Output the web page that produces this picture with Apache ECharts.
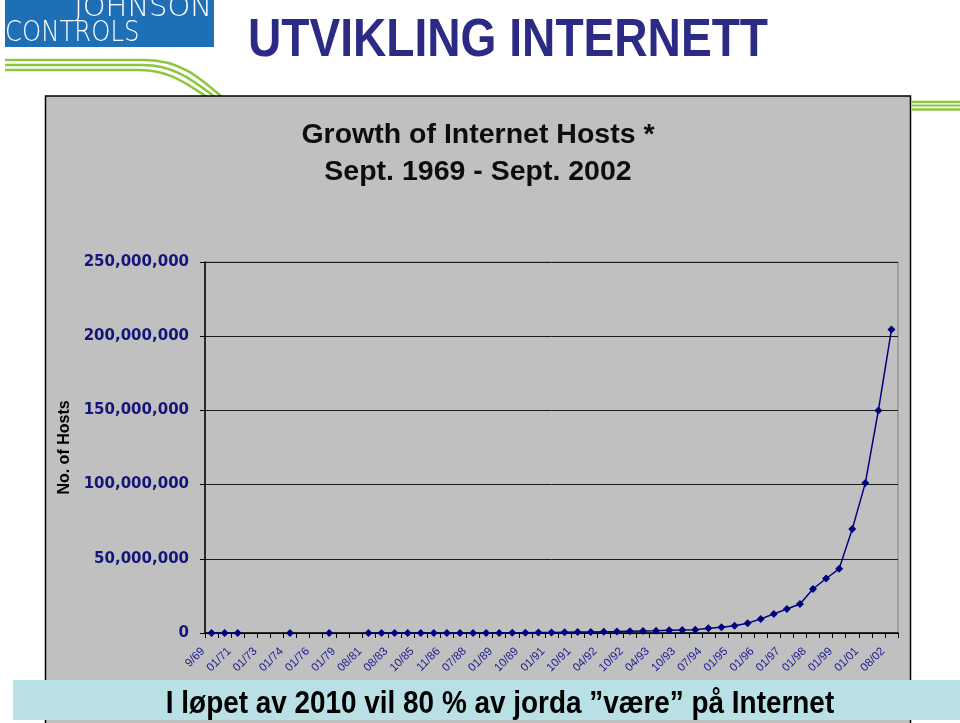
<!DOCTYPE html>
<html>
<head>
<meta charset="utf-8">
<script src="https://cdn.jsdelivr.net/npm/echarts@6/dist/echarts.min.js"></script>
<style>
html,body{margin:0;padding:0;background:#fff;}
#chart{width:960px;height:723px;}
</style>
</head>
<body>
<div id="chart"></div>
<script>
// ---- data ----
var categories = ["9/69","06/70","01/71","01/72","01/73","06/73","01/74","01/75","01/76","03/77",
  "01/79","12/79","08/81","05/82","08/83","10/84","10/85","02/86","11/86","12/87",
  "07/88","10/88","01/89","07/89","10/89","10/90","01/91","07/91","10/91","01/92",
  "04/92","07/92","10/92","01/93","04/93","07/93","10/93","01/94","07/94","10/94",
  "01/95","07/95","01/96","07/96","01/97","07/97","01/98","07/98","01/99","01/00",
  "01/01","01/02","08/02"];
var hosts = [4,9,23,null,null,null,62,null,null,111,
  null,null,213,235,562,1024,1961,2308,5089,28174,
  33000,56000,80000,130000,159000,313000,376000,535000,617000,727000,
  890000,992000,1136000,1313000,1486000,1776000,2056000,2217000,3212000,3864000,
  4852000,6642000,9472000,12881000,16146000,19540000,29670000,36739000,43230000,70000000,
  101000000,150000000,204500000];
var yTicks = [0,50000000,100000000,150000000,200000000,250000000];
var pageTitle = "UTVIKLING INTERNETT";
var chartTitle = ["Growth of Internet Hosts *", "Sept. 1969 - Sept. 2002"];
var banner = "I løpet av 2010 vil 80 % av jorda ”være” på Internet";

function fmt(v){ return String(v).replace(/\B(?=(\d{3})+(?!\d))/g, ","); }

var chart = echarts.init(document.getElementById('chart'), null, {renderer:'canvas'});
var green = '#8dc63f';
function swoosh(y, xs, cx1, cx2, cy2, xe){
  return [
    {type: 'line', z: -20, shape: {x1: 5, y1: y, x2: xs, y2: y}, style: {stroke: green, lineWidth: 2.5}},
    {type: 'bezierCurve', z: -20, shape: {x1: xs, y1: y, cpx1: cx1, cpy1: y, cpx2: cx2, cpy2: cy2, x2: xe, y2: 97},
     style: {stroke: green, lineWidth: 2.5, fill: null}}
  ];
}
var graphics = [
    // chart frame
    {type: 'rect', z: -10, shape: {x: 45.5, y: 96, width: 865, height: 640},
     style: {fill: '#c0c0c0', stroke: '#000', lineWidth: 1.5}},
    // logo
    {type: 'rect', z: 10, shape: {x: 5, y: 0, width: 209, height: 47}, style: {fill: '#1f6fb6'}},
    {type: 'text', z: 11, x: 212, y: 8, scaleX: 1.0,
     style: {text: 'JOHNSON', fill: '#fff', font: '200 29px "DejaVu Sans"', align: 'right', verticalAlign: 'middle'}},
    {type: 'text', z: 11, x: 5, y: 33, scaleX: 0.84,
     style: {text: 'CONTROLS', fill: '#fff', font: '200 29px "DejaVu Sans"', align: 'left', verticalAlign: 'middle'}},
    // right lines
    {type: 'line', z: -20, shape: {x1: 912, y1: 102, x2: 960, y2: 102}, style: {stroke: green, lineWidth: 2.5}},
    {type: 'line', z: -20, shape: {x1: 912, y1: 105.5, x2: 960, y2: 105.5}, style: {stroke: green, lineWidth: 2}},
    {type: 'line', z: -20, shape: {x1: 912, y1: 109.5, x2: 960, y2: 109.5}, style: {stroke: green, lineWidth: 2.5}},
    // page title
    {type: 'text', z: 11, x: 508, y: 41, scaleX: 0.87,
     style: {text: pageTitle, fill: '#2b2a85', font: 'bold 53px "Liberation Sans", Arial', align: 'center', verticalAlign: 'middle'}},
    // chart title
    {type: 'text', z: 11, x: 478, y: 135,
     style: {text: chartTitle[0], fill: '#0d0d0d', font: 'bold 28.5px "Liberation Sans", Arial', align: 'center', verticalAlign: 'middle'}},
    {type: 'text', z: 11, x: 478, y: 172,
     style: {text: chartTitle[1], fill: '#0d0d0d', font: 'bold 28.5px "Liberation Sans", Arial', align: 'center', verticalAlign: 'middle'}},
    // bottom banner
    {type: 'rect', z: 100, shape: {x: 13, y: 680, width: 947, height: 40}, style: {fill: '#b8e0e5'}},
    {type: 'text', z: 101, x: 500, y: 704, scaleX: 0.9,
     style: {text: banner, fill: '#000', font: 'bold 31px "Liberation Sans", Arial', align: 'center', verticalAlign: 'middle'}}
];
graphics = graphics.concat(swoosh(60, 145, 180, 200, 78, 222), swoosh(65, 143, 175, 195, 82, 215), swoosh(70, 140, 170, 188, 85, 207));

chart.setOption({
  backgroundColor: '#ffffff',
  animation: false,
  grid: {left: 205, right: 62, top: 262, bottom: 90, show: true,
         backgroundColor: '#c0c0c0', borderColor: '#808080', borderWidth: 1},
  xAxis: {
    type: 'category', data: categories, boundaryGap: true,
    axisLine: {lineStyle: {color: '#000', width: 1.5}},
    axisTick: {show: true, interval: 0, length: 5, lineStyle: {color: '#000', width: 1}},
    axisLabel: {interval: 1, rotate: 45, margin: 8, padding: [0, 12, 0, 0], color: '#1a1a90', fontSize: 11.5,
                fontFamily: 'Liberation Sans Narrow, Liberation Sans, Arial'},
    name: 'Time Period', nameLocation: 'middle', nameGap: 44,
    nameTextStyle: {color: '#000', fontWeight: 'bold', fontSize: 15, verticalAlign: 'top',
                    fontFamily: 'Liberation Sans, Arial'}
  },
  yAxis: {
    type: 'value', min: yTicks[0], max: yTicks[yTicks.length-1], interval: yTicks[1]-yTicks[0],
    axisLine: {show: true, lineStyle: {color: '#000', width: 1.5}},
    axisTick: {show: true, length: 5, lineStyle: {color: '#000'}},
    axisLabel: {formatter: fmt, margin: 16, color: '#14147a', fontSize: 15, fontWeight: 'bold',
                fontFamily: 'DejaVu Sans, Verdana'},
    splitLine: {show: true, lineStyle: {color: '#1a1a1a', width: 1}},
    name: 'No. of Hosts', nameLocation: 'middle', nameGap: 128, nameRotate: 90,
    nameTextStyle: {color: '#000', fontWeight: 'bold', fontSize: 16, fontFamily: 'Liberation Sans, Arial'}
  },
  series: [{
    type: 'line', data: hosts, showAllSymbol: true,
    symbol: 'diamond', symbolSize: 8,
    lineStyle: {color: '#000080', width: 1.5},
    itemStyle: {color: '#000080'},
    z: 5
  }],
  graphic: graphics
});
</script>
</body>
</html>
